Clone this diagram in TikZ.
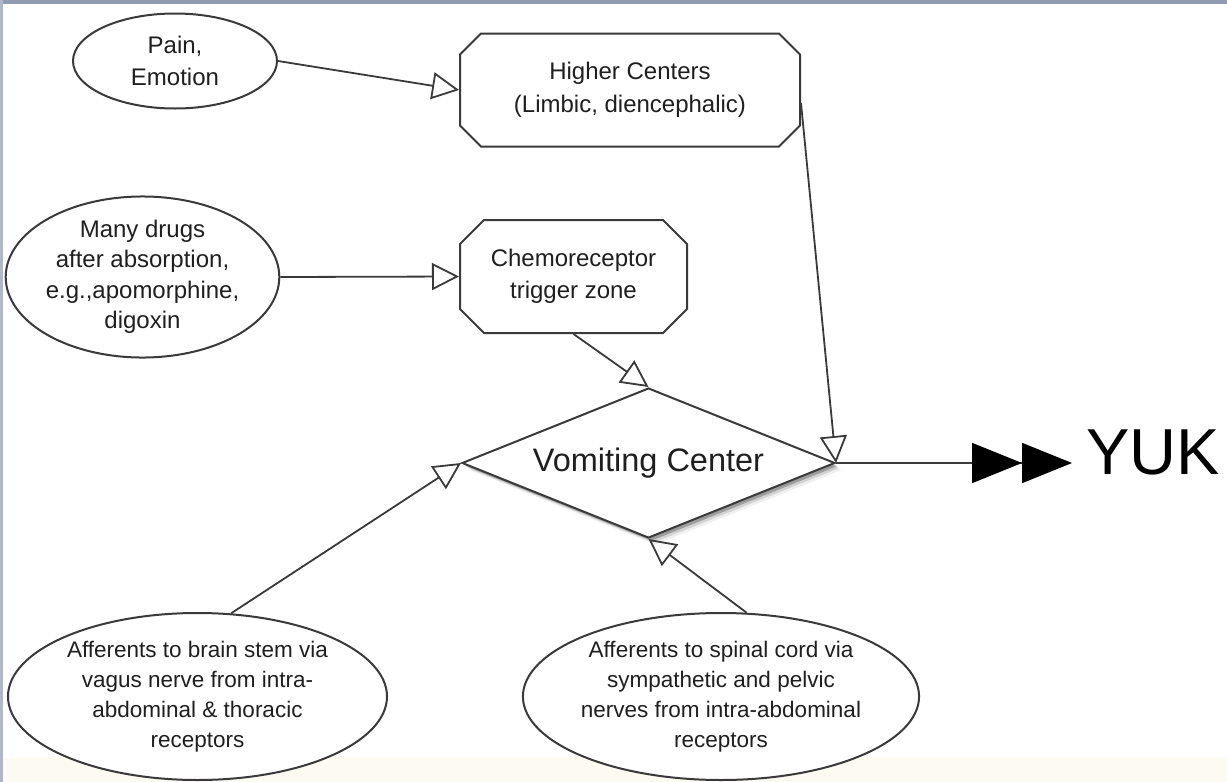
\documentclass[tikz,border=0pt]{standalone}
\usepackage{fontspec}
\setmainfont{Liberation Sans}
\usetikzlibrary{arrows.meta,shapes.geometric,shapes.misc,shadows,calc}
\definecolor{ink}{HTML}{3A3A3A}
\definecolor{txt}{HTML}{1F1F1F}
\definecolor{topband}{HTML}{8F9BB3}
\definecolor{leftband}{HTML}{AEB8C9}
\definecolor{cream}{HTML}{FDFAF2}
\begin{document}
\begin{tikzpicture}[x=1pt,y=-1pt,
  every node/.style={text=txt, align=center, inner sep=0pt},
  small/.style={font=\fontsize{24}{32}\selectfont},
  smaller/.style={font=\fontsize{22.5}{30}\selectfont},
  oval/.style={ellipse, draw=ink, line width=2pt, fill=white},
  cbox/.style={chamfered rectangle, chamfered rectangle xsep=10.5pt, chamfered rectangle ysep=10.5pt, draw=ink, line width=2pt, fill=white},
  flow/.style={draw=ink, line width=1.8pt, line join=miter, -{Triangle[open, length=27pt, width=27pt, line width=1.8pt]}},
  outflow/.style={draw=ink, line width=1.8pt, -{Triangle[length=50pt, width=40pt, sep=0pt, color=black]Triangle[length=50pt, width=40pt, color=black]}}
]
\useasboundingbox (0,0) rectangle (1227,782);
\fill[white] (0,0) rectangle (1227,782);
\fill[cream] (0,758) rectangle (1227,782);
\fill[topband] (0,0) rectangle (1227,4);
\fill[leftband] (0,0) rectangle (2.5,782);

% nodes
\node[oval, small, minimum width=204pt, minimum height=95pt] (pain) at (175,61) {Pain,\\Emotion};
\node[cbox, font=\fontsize{24}{33}\selectfont, minimum width=340pt, minimum height=113pt] (hc) at (630,90) {Higher Centers\\(Limbic, diencephalic)};
\node[oval, small, font=\fontsize{24}{30.5}\selectfont, minimum width=251pt, minimum height=153pt] (drugs) at (142.5,277) {Many drugs\\after absorption,\\e.g.,apomorphine,\\digoxin};
\node[cbox, small, chamfered rectangle xsep=12pt, chamfered rectangle ysep=12pt, minimum width=227pt, minimum height=113pt] (ctz) at (573.5,276.5) {Chemoreceptor\\trigger zone};
\node[diamond, aspect=2.49, minimum width=373pt, minimum height=150pt, draw=ink, line width=2pt, fill=white,
      drop shadow={shadow xshift=7pt, shadow yshift=-7pt, opacity=0.06, fill=black},
      drop shadow={shadow xshift=5pt, shadow yshift=-5pt, opacity=0.12, fill=black},
      drop shadow={shadow xshift=3pt, shadow yshift=-3pt, opacity=0.25, fill=black},
      font=\fontsize{32.5}{38}\selectfont] (vc) at (648.5,463) {Vomiting Center};
\node[oval, smaller, minimum width=379pt, minimum height=167pt] (bl) at (197.5,696.5) {Afferents to brain stem via\\vagus nerve from intra-\\abdominal \& thoracic\\receptors};
\node[oval, smaller, minimum width=368pt, minimum height=167pt] (br) at (721,696.5) {Afferents to spinal cord via\\sympathetic and pelvic\\nerves from intra-abdominal\\receptors};
\node[anchor=west, font=\fontsize{65}{70}\selectfont, text=black] (yuk) at (1086,452) {YUK};
\coordinate (yt) at (1072,463);

% connectors
\draw[flow] (pain.east) -- (hc.west);
\draw[flow] (drugs.east) -- (ctz.west);
\draw[flow] (ctz.south) -- (vc.north);
\draw[flow] ($(hc.east)+(0,13)$) -- (vc.east);
\draw[flow] (bl.68) -- (vc.west);
\draw[flow] (br.73) -- (vc.south);
\draw[outflow] (vc.east) -- (yt);
\end{tikzpicture}
\end{document}
